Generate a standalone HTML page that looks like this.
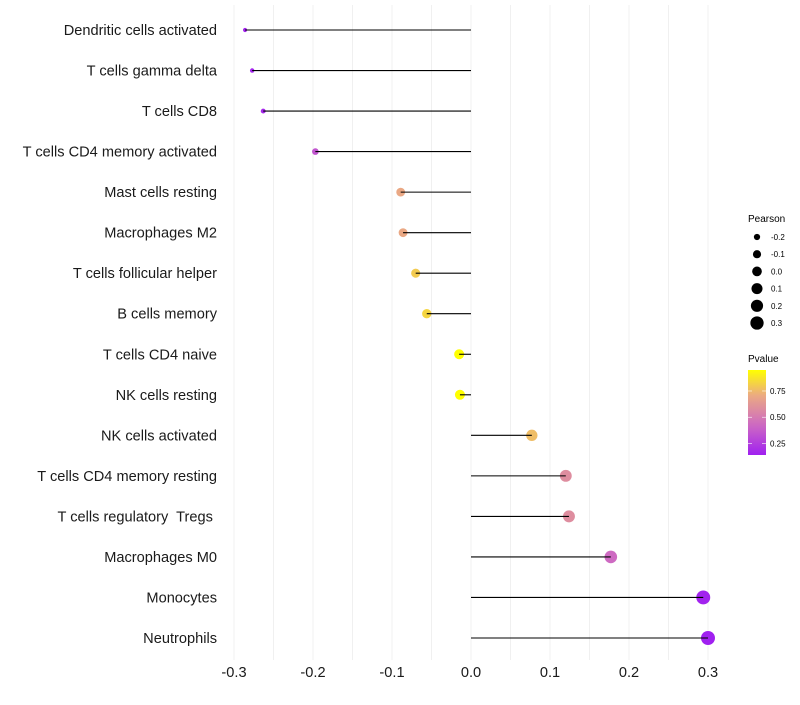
<!DOCTYPE html>
<html><head><meta charset="utf-8"><style>
body{margin:0;background:#fff;font-family:"Liberation Sans",sans-serif;}
text{white-space:pre;}
</style></head><body>
<svg id="chart" width="800" height="700" xmlns="http://www.w3.org/2000/svg" font-family="Liberation Sans, sans-serif" xml:space="preserve">
<g id="grid"></g>
<g id="marks"></g>
<g id="ylabels"></g>
<g id="xlabels"></g>
<g id="legend"></g>
</svg>
<script>
const categories=["Dendritic cells activated","T cells gamma delta","T cells CD8","T cells CD4 memory activated","Mast cells resting","Macrophages M2","T cells follicular helper","B cells memory","T cells CD4 naive","NK cells resting","NK cells activated","T cells CD4 memory resting","T cells regulatory  Tregs ","Macrophages M0","Monocytes","Neutrophils"];
const pearson=[-0.286,-0.277,-0.263,-0.197,-0.089,-0.086,-0.070,-0.056,-0.015,-0.014,0.077,0.120,0.124,0.177,0.294,0.300];
const pvalue=[0.15,0.16,0.17,0.35,0.70,0.70,0.80,0.83,0.95,0.95,0.76,0.58,0.58,0.43,0.15,0.14];
const xTicks=[-0.3,-0.2,-0.1,0.0,0.1,0.2,0.3];
const sizeTicks=[-0.2,-0.1,0.0,0.1,0.2,0.3];
const pTicks=[0.25,0.50,0.75];

const NS="http://www.w3.org/2000/svg";
function mk(tag,attrs,parent){const e=document.createElementNS(NS,tag);for(const k in attrs)e.setAttribute(k,attrs[k]);parent.appendChild(e);return e;}
const x=v=>471+v*790;
const y=i=>30+i*(608/15);
const rad=v=>Math.sqrt(Math.max(1,26.1+76.3*v));
const pMin=0.14,pMax=0.95;
const stops=[[0,[160,32,240]],[0.35,[205,105,195]],[0.7,[235,170,130]],[1,[255,255,0]]];
function col(p){let t=(p-pMin)/(pMax-pMin);t=Math.max(0,Math.min(1,t));
for(let i=0;i<stops.length-1;i++){const a=stops[i],b=stops[i+1];if(t<=b[0]){const f=(t-a[0])/(b[0]-a[0]);const c=a[1].map((v,j)=>Math.round(v+(b[1][j]-v)*f));return `rgb(${c})`;}}return 'rgb(255,255,0)';}
const grid=document.getElementById('grid');
for(let v=-0.3;v<=0.3001;v+=0.05){const g=mk('line',{x1:x(v),x2:x(v),y1:5,y2:660,stroke:'#f0f0f0','stroke-width':1},grid);

}
const marks=document.getElementById('marks');
categories.forEach((c,i)=>{
 const d=mk('circle',{cx:x(pearson[i]),cy:y(i),r:rad(pearson[i]),fill:col(pvalue[i])},marks);
 
 
 const l=mk('line',{x1:x(0),x2:x(pearson[i]),y1:y(i),y2:y(i),stroke:'#000','stroke-width':1.1},marks);
 
 
 const t=mk('text',{x:217,y:y(i)+5,'text-anchor':'end','font-size':14.6,fill:'#1a1a1a'},document.getElementById('ylabels'));
 t.textContent=c;
 
 
});
xTicks.forEach(v=>{const t=mk('text',{x:x(v),y:677,'text-anchor':'middle','font-size':14.6,fill:'#1a1a1a'},document.getElementById('xlabels'));
t.textContent=v.toFixed(1);

});
const lg=document.getElementById('legend');
let tt=mk('text',{x:748,y:222,'font-size':10},lg);tt.textContent='Pearson';


sizeTicks.forEach((v,i)=>{const cy=237+i*17.2;
 const c=mk('circle',{cx:757,cy:cy,r:rad(v)*0.95,fill:'#000'},lg);
 
 
 const t=mk('text',{x:771,y:cy+3,'font-size':8},lg);t.textContent=v.toFixed(1);
 
 });
tt=mk('text',{x:748,y:362,'font-size':10},lg);tt.textContent='Pvalue';


const defs=mk('defs',{},lg);const gr=mk('linearGradient',{id:'pg',x1:0,y1:1,x2:0,y2:0},defs);
for(let k=0;k<=10;k++){const p=pMin+(pMax-pMin)*k/10;mk('stop',{offset:k/10,'stop-color':col(p)},gr);}
const barTop=370,barBot=455;
const bar=mk('rect',{x:748,y:barTop,width:18,height:barBot-barTop,fill:'url(#pg)'},lg);


const py=p=>barBot-(p-pMin)/(pMax-pMin)*(barBot-barTop);
pTicks.forEach(p=>{mk('line',{x1:748,x2:752,y1:py(p),y2:py(p),stroke:'#fff','stroke-width':0.6},lg);mk('line',{x1:762,x2:766,y1:py(p),y2:py(p),stroke:'#fff','stroke-width':0.6},lg);
 const t=mk('text',{x:770,y:py(p)+3,'font-size':8},lg);t.textContent=p.toFixed(2);
 
 });
</script>
</body></html>
